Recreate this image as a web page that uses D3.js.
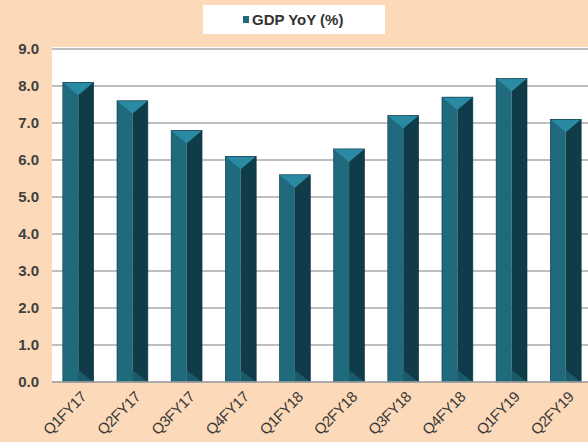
<!DOCTYPE html>
<html><head><meta charset="utf-8">
<script src="https://cdn.jsdelivr.net/npm/d3@7"></script>
<style>html,body{margin:0;padding:0;background:#fcd9b8;}svg{display:block;}</style>
</head><body>
<svg id="chart" width="588" height="442"></svg>
<script>
const categories = ["Q1FY17","Q2FY17","Q3FY17","Q4FY17","Q1FY18","Q2FY18","Q3FY18","Q4FY18","Q1FY19","Q2FY19"];
const gdpYoY = [8.1, 7.6, 6.8, 6.1, 5.6, 6.3, 7.2, 7.7, 8.2, 7.1];
const yTicks = [0,1,2,3,4,5,6,7,8,9];
const seriesName = "GDP YoY (%)";

const svg = d3.select("#chart");
const W = 588, H = 442;
svg.append("rect").attr("width", W).attr("height", H).attr("fill", "#fcd9b8");

const plotLeft = 52, plotTop = 47, plotBottom = 382;
const x = d3.scaleBand().domain(categories).range([52, 592]).paddingInner(0.43).paddingOuter(0.2);
const y = d3.scaleLinear().domain([0, 9]).range([plotBottom, 49]);

// plot area
svg.append("rect").attr("x", plotLeft).attr("y", plotTop).attr("width", W - plotLeft).attr("height", plotBottom - plotTop).attr("fill", "#ffffff");

// gridlines
svg.append("g").selectAll("line").data(yTicks).join("line")
  .attr("x1", plotLeft).attr("x2", W)
  .attr("y1", d => y(d)).attr("y2", d => y(d))
  .attr("stroke", "#a9a9a9").attr("stroke-width", 1.4);

// y labels
const yAxis = d3.axisLeft(y).tickValues(yTicks).tickFormat(d3.format(".1f")).tickSize(0).tickPadding(0);
const ga = svg.append("g").attr("transform", `translate(39,0)`).call(yAxis);
ga.select(".domain").remove();
ga.selectAll("text").attr("font-family", "Liberation Sans, Arial, sans-serif").attr("font-size", 15).attr("font-weight", "bold").attr("fill", "#404040");

// bars
const bars = svg.append("g").selectAll("g").data(categories).join("g");
bars.each(function(c, i) {
  const g = d3.select(this);
  const x0 = x(c), bw = x.bandwidth(), x1 = x0 + bw, xm = x0 + bw / 2;
  const top = y(gdpYoY[i]), base = y(0);
  const cap = 13;
  g.append("rect").attr("x", x0).attr("y", top).attr("width", bw / 2).attr("height", base - top).attr("fill", "#1f6b7d");
  g.append("rect").attr("x", xm).attr("y", top).attr("width", bw / 2).attr("height", base - top).attr("fill", "#0f3c48");
  g.append("path").attr("d", `M${xm},${base - 12}L${x1},${base}L${xm},${base}Z`).attr("fill", "#1a5a69");
  g.append("path").attr("d", `M${x0},${top}L${x1},${top}L${xm},${top + cap}Z`).attr("fill", "#2b8aa3");
  g.append("rect").attr("x", x0).attr("y", top).attr("width", bw).attr("height", base - top).attr("fill", "none").attr("stroke", "#0c3440").attr("stroke-width", 0.6);
});

// axis baseline
svg.append("line").attr("x1", plotLeft).attr("x2", W).attr("y1", y(0)).attr("y2", y(0)).attr("stroke", "#a9a9a9").attr("stroke-width", 1.4);

// x labels
const xAxis = d3.axisBottom(x).tickSize(0).tickPadding(0);
const gx = svg.append("g").attr("transform", `translate(0,${plotBottom})`).call(xAxis);
gx.select(".domain").remove();
gx.selectAll("text")
  .attr("font-family", "Liberation Sans, Arial, sans-serif").attr("font-size", 15).attr("fill", "#3a3a3a")
  .attr("letter-spacing", "-0.4")
  .attr("text-anchor", "end").attr("dy", null).attr("y", 0)
  .attr("transform", "translate(9,16) rotate(-45)");

// legend
const lg = svg.append("g");
lg.append("rect").attr("x", 203).attr("y", 5).attr("width", 182).attr("height", 29).attr("fill", "#ffffff");
lg.append("rect").attr("x", 243).attr("y", 16).attr("width", 6).attr("height", 7).attr("fill", "#1f6b7d");
lg.append("text").attr("x", 252).attr("y", 25).text(seriesName)
  .attr("font-family", "Liberation Sans, Arial, sans-serif").attr("font-size", 15).attr("font-weight", "bold").attr("fill", "#333");
</script>
</body></html>
